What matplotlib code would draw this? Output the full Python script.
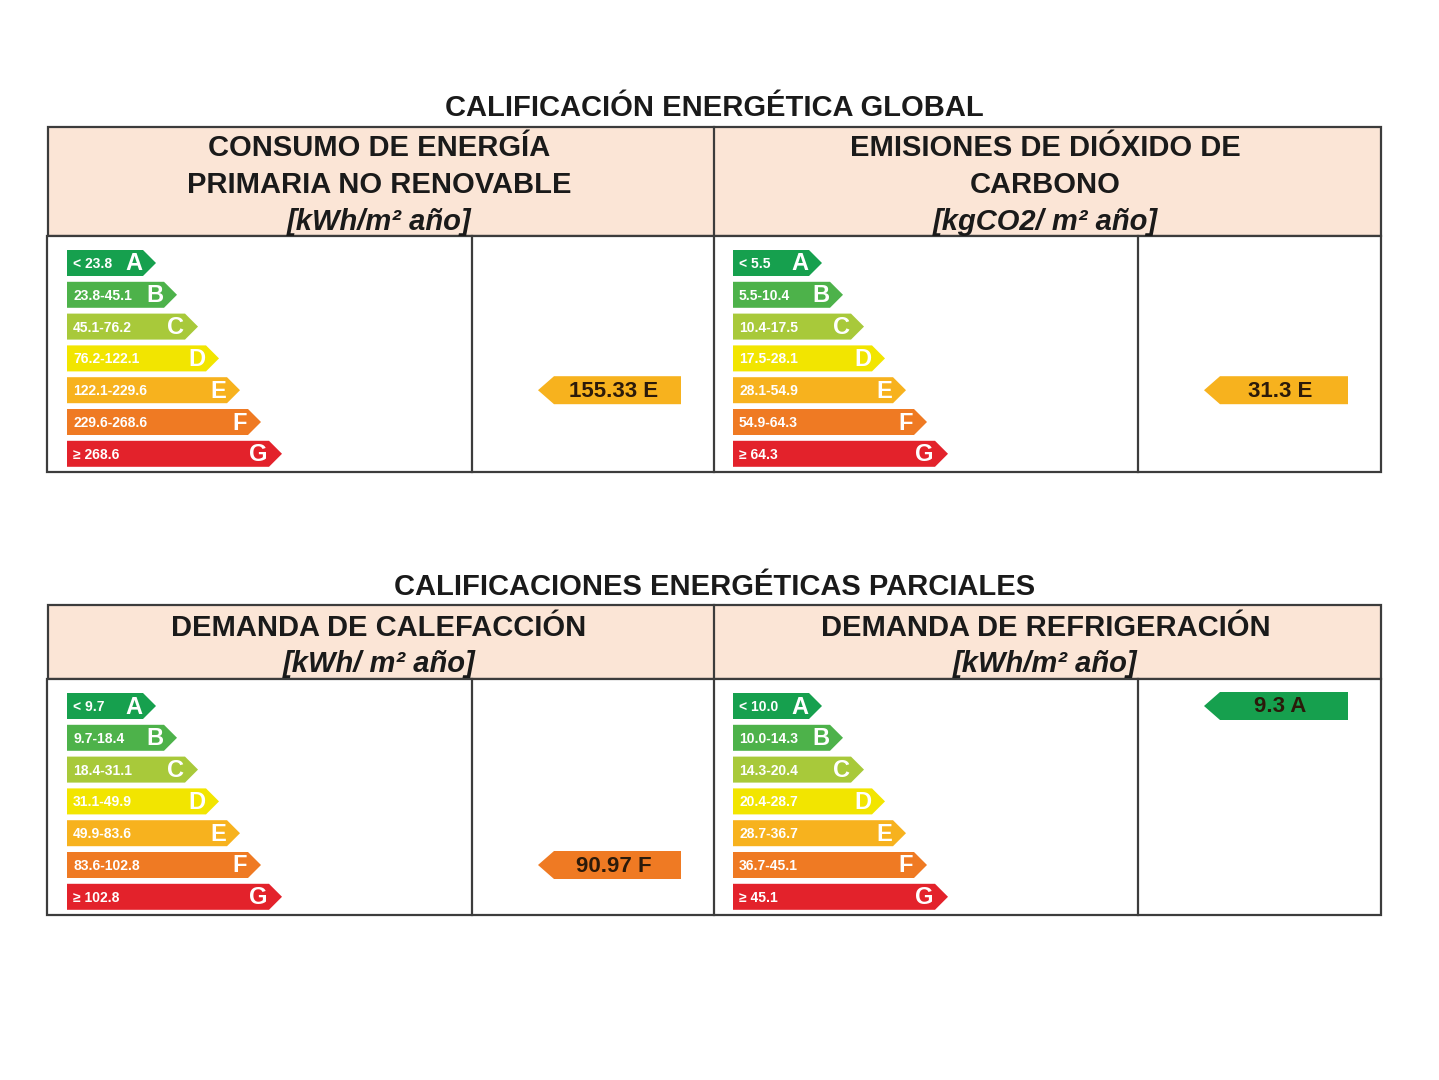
import matplotlib
matplotlib.use("Agg")
import matplotlib.pyplot as plt
from matplotlib.patches import Polygon, Rectangle

plt.rcParams['font.family'] = ['Liberation Sans', 'DejaVu Sans']

# ---------------- data ----------------
classes = ["A", "B", "C", "D", "E", "F", "G"]
class_colors = ["#16a04e", "#4db24a", "#a8c93a", "#f2e500", "#f7b21e", "#ef7a23", "#e3222b"]

section_titles = ["CALIFICACIÓN ENERGÉTICA GLOBAL", "CALIFICACIONES ENERGÉTICAS PARCIALES"]

panel_headers = [
    ["CONSUMO DE ENERGÍA", "PRIMARIA NO RENOVABLE"],
    ["EMISIONES DE DIÓXIDO DE", "CARBONO"],
    ["DEMANDA DE CALEFACCIÓN"],
    ["DEMANDA DE REFRIGERACIÓN"],
]
panel_units = ["[kWh/m² año]", "[kgCO2/ m² año]", "[kWh/ m² año]", "[kWh/m² año]"]

ranges_consumo = ["< 23.8", "23.8-45.1", "45.1-76.2", "76.2-122.1", "122.1-229.6", "229.6-268.6", "≥ 268.6"]
ranges_emisiones = ["< 5.5", "5.5-10.4", "10.4-17.5", "17.5-28.1", "28.1-54.9", "54.9-64.3", "≥ 64.3"]
ranges_calefaccion = ["< 9.7", "9.7-18.4", "18.4-31.1", "31.1-49.9", "49.9-83.6", "83.6-102.8", "≥ 102.8"]
ranges_refrigeracion = ["< 10.0", "10.0-14.3", "14.3-20.4", "20.4-28.7", "28.7-36.7", "36.7-45.1", "≥ 45.1"]
panel_ranges = [ranges_consumo, ranges_emisiones, ranges_calefaccion, ranges_refrigeracion]

values = [155.33, 31.3, 90.97, 9.3]
value_labels = ["155.33", "31.3", "90.97", "9.3"]
value_classes = ["E", "E", "F", "A"]

# ---------------- layout ----------------
W, H = 1439, 1080
fig = plt.figure(figsize=(W / 100, H / 100), dpi=100)
ax = fig.add_axes([0, 0, 1, 1])
ax.set_xlim(0, W)
ax.set_ylim(H, 0)
ax.axis("off")

x_left, x_mid, x_right = 48, 714, 1381
sections = [
    dict(title_y=108, head_top=127, head_bot=236, body_bot=472, first_row=263, head_y0=148, head_dy=37),
    dict(title_y=587, head_top=605, head_bot=679, body_bot=915, first_row=706, head_y0=628, head_dy=36),
]
row_step = 31.8
bar_h = 26
line_c = "#3c3c3c"
head_bg = "#fbe5d6"
fs_head = 21

for s_i, sec in enumerate(sections):
    ax.text((x_left + x_right) / 2, sec["title_y"], section_titles[s_i], ha="center", va="center",
            fontsize=fs_head, fontweight="bold", color="#1a1a1a")
    # header
    ax.add_patch(Rectangle((x_left, sec["head_top"]), x_right - x_left, sec["head_bot"] - sec["head_top"],
                           facecolor=head_bg, edgecolor=line_c, lw=1.6, zorder=1))
    ax.add_patch(Rectangle((x_left - 1, sec["head_bot"]), x_right - x_left + 1, sec["body_bot"] - sec["head_bot"],
                           facecolor="white", edgecolor=line_c, lw=1.6, zorder=1))
    ax.plot([x_mid, x_mid], [sec["head_top"], sec["body_bot"]], color=line_c, lw=1.6, zorder=2)
    for side in range(2):
        p = s_i * 2 + side
        x0 = x_left if side == 0 else x_mid
        xc = (x0 + (x_mid if side == 0 else x_right)) / 2 - 2
        lines = panel_headers[p] + [panel_units[p]]
        n = len(lines)
        for k, t in enumerate(lines):
            italic = (k == n - 1)
            ax.text(xc, sec["head_y0"] + sec["head_dy"] * k, t, ha="center", va="center",
                    fontsize=fs_head, fontweight="bold",
                    fontstyle="italic" if italic else "normal", color="#1a1a1a")
        # inner divider
        xdiv = 472 if side == 0 else 1138
        ax.plot([xdiv, xdiv], [sec["head_bot"], sec["body_bot"]], color=line_c, lw=1.6, zorder=2)

        # class bars
        bx = 67 if side == 0 else 733
        for i, cls in enumerate(classes):
            yc = sec["first_row"] + i * row_step
            rect_end = bx + 76 + i * 21
            tip = rect_end + 13
            poly = Polygon([(bx, yc - bar_h / 2), (rect_end, yc - bar_h / 2), (tip, yc),
                            (rect_end, yc + bar_h / 2), (bx, yc + bar_h / 2)],
                           closed=True, facecolor=class_colors[i], edgecolor="none", zorder=3)
            ax.add_patch(poly)
            ax.text(bx + 6, yc + 1, panel_ranges[p][i], ha="left", va="center", fontsize=10,
                    fontweight="bold", color="white", zorder=4)
            ax.text(rect_end - 1, yc + 1, cls, ha="right", va="center", fontsize=17,
                    fontweight="bold", color="white", zorder=4)

        # indicator arrow
        ci = classes.index(value_classes[p])
        yc = sec["first_row"] + ci * row_step
        ix_tip = 538 if side == 0 else 1204
        ix_end = 681 if side == 0 else 1348
        ih = 28
        poly = Polygon([(ix_tip, yc), (ix_tip + 16, yc - ih / 2), (ix_end, yc - ih / 2),
                        (ix_end, yc + ih / 2), (ix_tip + 16, yc + ih / 2)],
                       closed=True, facecolor=class_colors[ci], edgecolor="none", zorder=3)
        ax.add_patch(poly)
        ax.text((ix_tip + 16 + ix_end) / 2 - 4, yc + 1, f"{value_labels[p]} {value_classes[p]}",
                ha="center", va="center", fontsize=16, fontweight="bold", color="#2b1a0a", zorder=4)

fig.savefig("out.png", dpi=100, facecolor="white")
